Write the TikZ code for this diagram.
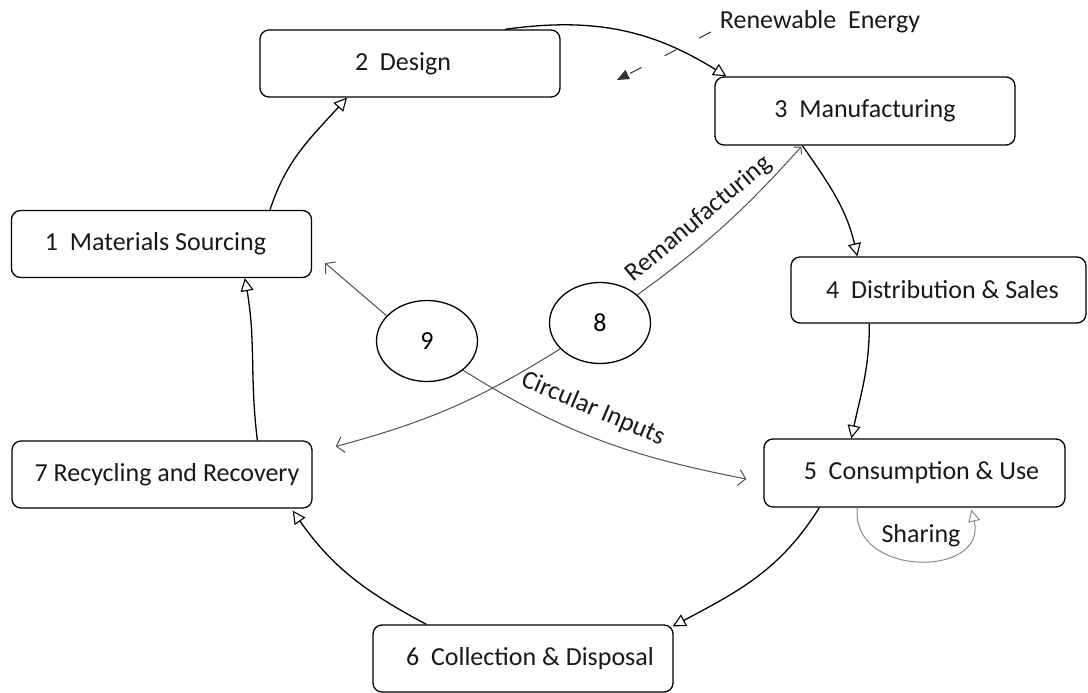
\documentclass[tikz,border=0pt]{standalone}
\usepackage{fontspec}
\setmainfont{Carlito}
\usetikzlibrary{shapes.geometric,arrows.meta,calc}
\definecolor{inner}{HTML}{505050}
\definecolor{share}{HTML}{8A8A8A}
\begin{document}
\begin{tikzpicture}[x=1pt,y=1pt,
  stagebox/.style={draw=black, line width=1.3pt, rounded corners=9pt, fill=white,
    minimum width=300pt, minimum height=67pt, inner sep=0pt,
    font=\fontsize{26}{31}\selectfont, text=black!90},
  loopnode/.style={draw=black, line width=1.3pt, ellipse, minimum width=101pt,
    minimum height=81pt, inner sep=0pt, font=\fontsize{26}{31}\selectfont},
  cycle/.style={draw=black, line width=1.3pt,
    -{Triangle[open, length=13pt, width=13pt, line width=1.1pt]}},
  innerarrow/.style={draw=inner, line width=1pt,
    -{Straight Barb[length=7pt, width=16pt, line width=1pt]}},
  lbl/.style={font=\fontsize{26}{31}\selectfont, text=black!90, inner sep=0pt}
]
\useasboundingbox (0,0) rectangle (1088,-693);

% stages
\node[stagebox] (s1) at (161.5,-244) {1~ Materials Sourcing\hspace*{12pt}};
\node[stagebox] (d2) at (410,-63.5) {2~ Design\hspace*{14pt}};
\node[stagebox, minimum height=68pt] (m3) at (865,-111) {3~ Manufacturing};
\node[stagebox, minimum width=295pt, minimum height=66pt] (ds4) at (938.5,-290) {\hspace*{8pt}4~ Distribution \& Sales};
\node[stagebox, minimum width=301pt, minimum height=68pt] (c5) at (914.5,-473) {\hspace*{14pt}5~ Consumption \& Use};
\node[stagebox] (cd6) at (523,-658.5) {\hspace*{14pt}6~ Collection \& Disposal};
\node[stagebox] (r7) at (162,-474.5) {\hspace*{10pt}7 Recycling and Recovery};

% inner loops
\node[loopnode] (e9) at (427,-341) {9};
\node[loopnode] (e8) at (600,-323) {8};

% main cycle
\draw[cycle] ($(s1.north)+(108.5,0)$) to[out=72, in=228] ($(d2.south)+(-63,0)$);
\draw[cycle] ($(d2.north)+(95,0)$) to[out=8, in=148] ($(m3.north west)+(12,0)$);
\draw[cycle] ($(m3.south west)+(88,0)$) to[out=-55, in=103] ($(ds4.north west)+(67,0)$);
\draw[cycle] ($(ds4.south west)+(79,0)$) to[out=-90, in=78] ($(c5.north west)+(88,0)$);
\draw[cycle] ($(c5.south west)+(56,0)$) to[out=-122, in=28] ($(cd6.north east)+(-1,-2)$);
\draw[cycle] ($(cd6.north west)+(54,0)$) to[out=152, in=-55] ($(r7.south east)+(-20,-2)$);
\draw[cycle] ($(r7.north west)+(246,0)$) to[out=97, in=-80] ($(s1.south west)+(234,0)$);

% inner connectors
\draw[innerarrow] (e9.148) -- ($(s1.east)+(13,-19)$);
\draw[innerarrow] (e9.-39) to[out=-32, in=169] ($(c5.west)+(-17,-6)$);
\draw[innerarrow] (e8.213) to[out=212, in=15] ($(r7.east)+(23,28)$);
\draw[innerarrow, -{Straight Barb[length=5pt, width=11pt, line width=1pt]}] (e8.37) to[out=36, in=228] ($(m3.south west)+(87,-1)$);

% labels on connectors
\node[lbl, rotate=40] (remanlbl) at (699,-219) {Remanufacturing};
\node[lbl, rotate=-23] (circlbl) at (593,-409) {Circular Inputs};

% sharing loop
\draw[share, line width=1pt, -{Triangle[open, length=12pt, width=12pt, line width=1pt]}]
  ($(c5.south west)+(94,0)$) .. controls (850,-578) and (988,-578) .. ($(c5.south west)+(208,-2)$);
\node[lbl] (sharelbl) at (921,-536) {Sharing};

% renewable energy
\node[lbl] (re) at (820,-22) {Renewable~ Energy};
\coordinate (reS) at (711,-32);
\coordinate (reE) at (617,-80);
\draw[draw=black!80, line width=1pt, dash pattern=on 13pt off 26pt,
  -{Triangle[length=12pt, width=10pt]}] (reS) -- (reE);
\end{tikzpicture}
\end{document}
